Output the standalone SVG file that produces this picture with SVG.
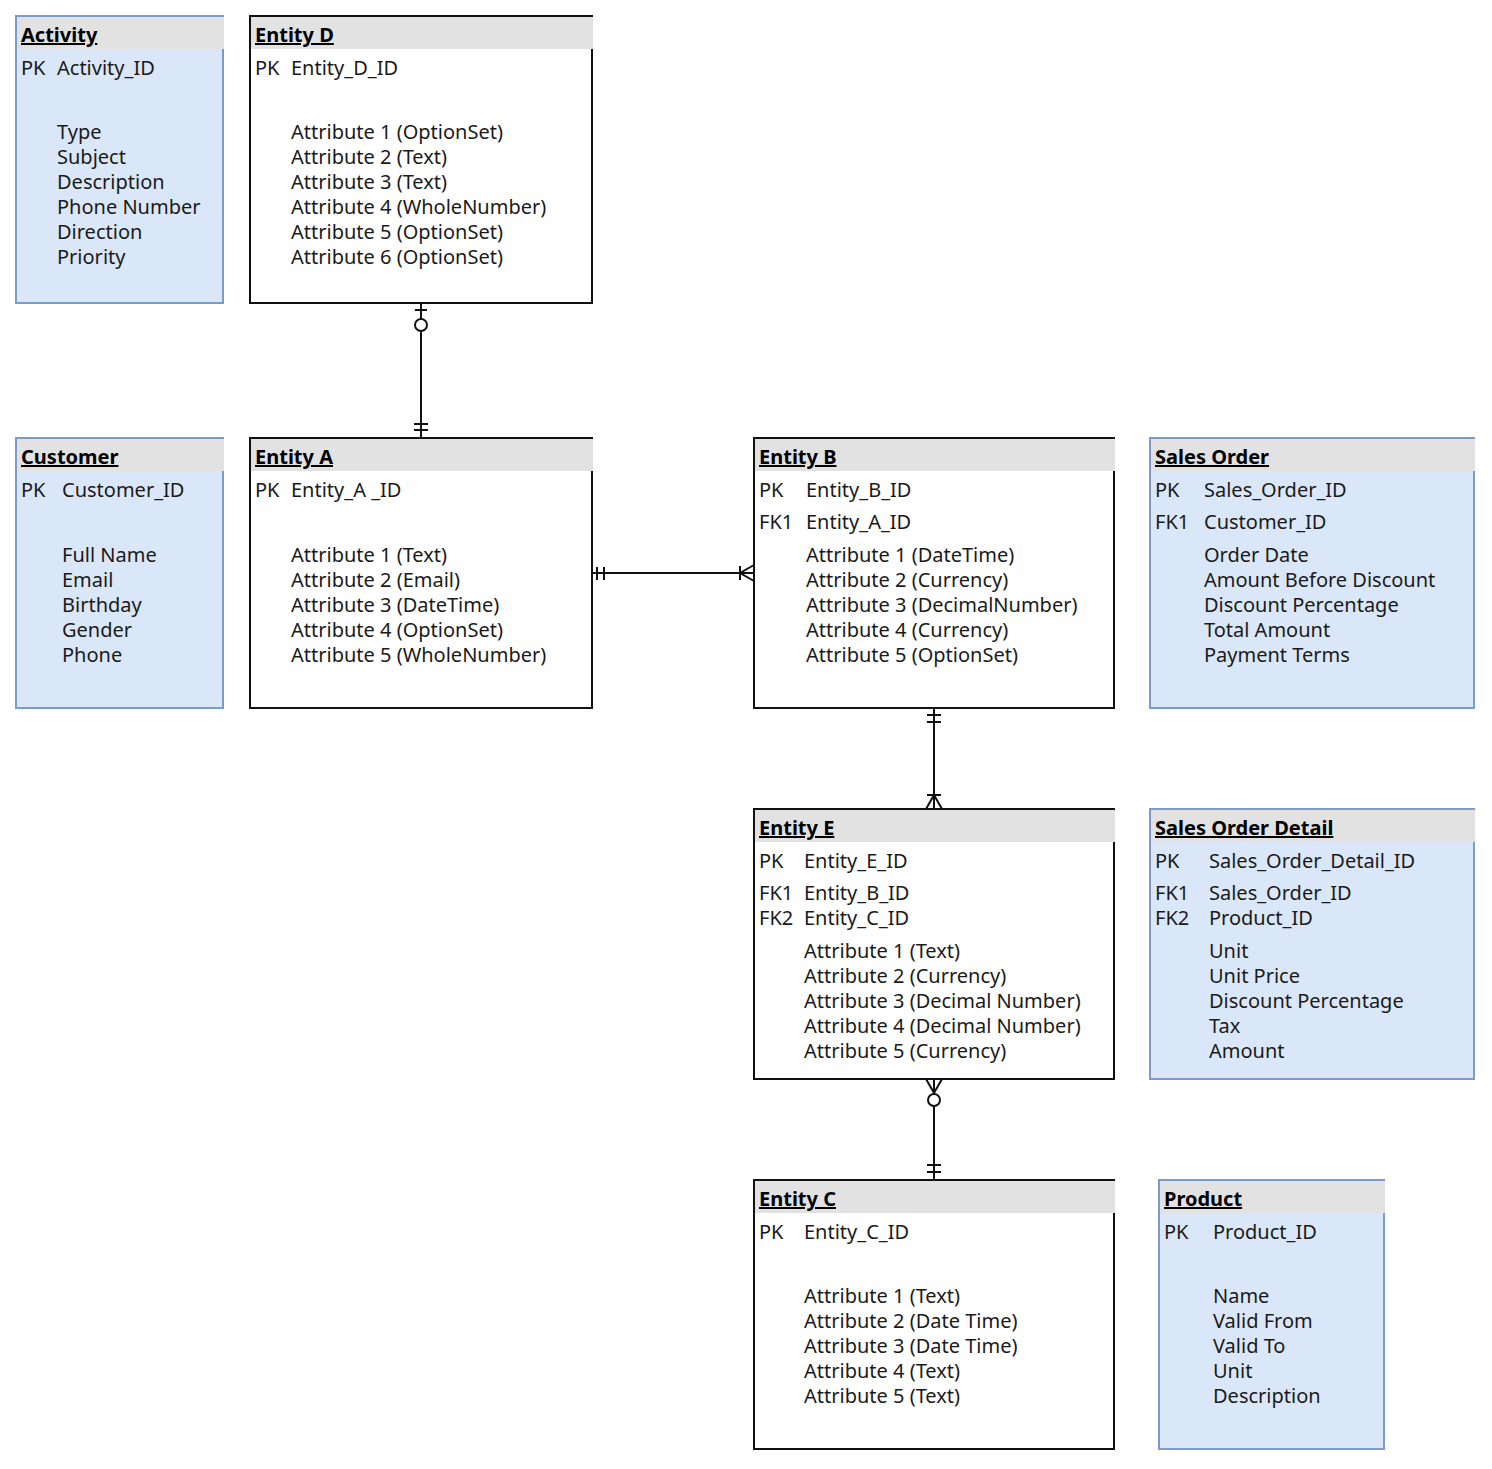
<svg xmlns="http://www.w3.org/2000/svg" width="1492" height="1469" viewBox="0 0 1492 1469">
<style>
text{font-family:"Noto Sans","Open Sans","DejaVu Sans",sans-serif;font-size:20px;fill:#1a1a1a}
.t{font-weight:bold;text-decoration:underline;fill:#000}
.hd{fill:#e2e2e2}
.bw{fill:#fff;stroke:#111;stroke-width:2}
.bb{fill:#dae7f8;stroke:#7b9bcb;stroke-width:2}
.ln{stroke:#111;stroke-width:2;fill:none}
.oc{stroke:#111;stroke-width:2;fill:#fff}
</style>
<rect width="1492" height="1469" fill="#fff"/>

<g id="activity">
<rect class="bb" x="16" y="16" width="207" height="287"/>
<rect class="hd" x="17" y="17" width="207" height="32"/>
<text class="t" x="21" y="42">Activity</text>
<text x="21" y="75">PK</text><text x="57" y="75">Activity_ID</text>
<text x="57" y="139">Type</text>
<text x="57" y="164">Subject</text>
<text x="57" y="189">Description</text>
<text x="57" y="214">Phone Number</text>
<text x="57" y="239">Direction</text>
<text x="57" y="264">Priority</text>
</g>

<g id="entityD">
<rect class="bw" x="250" y="16" width="342" height="287"/>
<rect class="hd" x="251" y="17" width="342" height="32"/>
<text class="t" x="255" y="42">Entity D</text>
<text x="255" y="75">PK</text><text x="291" y="75">Entity_D_ID</text>
<text x="291" y="139">Attribute 1 (OptionSet)</text>
<text x="291" y="164">Attribute 2 (Text)</text>
<text x="291" y="189">Attribute 3 (Text)</text>
<text x="291" y="214">Attribute 4 (WholeNumber)</text>
<text x="291" y="239">Attribute 5 (OptionSet)</text>
<text x="291" y="264">Attribute 6 (OptionSet)</text>
</g>

<g id="customer">
<rect class="bb" x="16" y="438" width="207" height="270"/>
<rect class="hd" x="17" y="439" width="207" height="32"/>
<text class="t" x="21" y="464">Customer</text>
<text x="21" y="497">PK</text><text x="62" y="497">Customer_ID</text>
<text x="62" y="562">Full Name</text>
<text x="62" y="587">Email</text>
<text x="62" y="612">Birthday</text>
<text x="62" y="637">Gender</text>
<text x="62" y="662">Phone</text>
</g>

<g id="entityA">
<rect class="bw" x="250" y="438" width="342" height="270"/>
<rect class="hd" x="251" y="439" width="342" height="32"/>
<text class="t" x="255" y="464">Entity A</text>
<text x="255" y="497">PK</text><text x="291" y="497">Entity_A _ID</text>
<text x="291" y="562">Attribute 1 (Text)</text>
<text x="291" y="587">Attribute 2 (Email)</text>
<text x="291" y="612">Attribute 3 (DateTime)</text>
<text x="291" y="637">Attribute 4 (OptionSet)</text>
<text x="291" y="662">Attribute 5 (WholeNumber)</text>
</g>

<g id="entityB">
<rect class="bw" x="754" y="438" width="360" height="270"/>
<rect class="hd" x="755" y="439" width="360" height="32"/>
<text class="t" x="759" y="464">Entity B</text>
<text x="759" y="497">PK</text><text x="806" y="497">Entity_B_ID</text>
<text x="759" y="529">FK1</text><text x="806" y="529">Entity_A_ID</text>
<text x="806" y="562">Attribute 1 (DateTime)</text>
<text x="806" y="587">Attribute 2 (Currency)</text>
<text x="806" y="612">Attribute 3 (DecimalNumber)</text>
<text x="806" y="637">Attribute 4 (Currency)</text>
<text x="806" y="662">Attribute 5 (OptionSet)</text>
</g>

<g id="salesOrder">
<rect class="bb" x="1150" y="438" width="324" height="270"/>
<rect class="hd" x="1151" y="439" width="324" height="32"/>
<text class="t" x="1155" y="464">Sales Order</text>
<text x="1155" y="497">PK</text><text x="1204" y="497">Sales_Order_ID</text>
<text x="1155" y="529">FK1</text><text x="1204" y="529">Customer_ID</text>
<text x="1204" y="562">Order Date</text>
<text x="1204" y="587">Amount Before Discount</text>
<text x="1204" y="612">Discount Percentage</text>
<text x="1204" y="637">Total Amount</text>
<text x="1204" y="662">Payment Terms</text>
</g>

<g id="entityE">
<rect class="bw" x="754" y="809" width="360" height="270"/>
<rect class="hd" x="755" y="810" width="360" height="32"/>
<text class="t" x="759" y="835">Entity E</text>
<text x="759" y="868">PK</text><text x="804" y="868">Entity_E_ID</text>
<text x="759" y="900">FK1</text><text x="804" y="900">Entity_B_ID</text>
<text x="759" y="925">FK2</text><text x="804" y="925">Entity_C_ID</text>
<text x="804" y="958">Attribute 1 (Text)</text>
<text x="804" y="983">Attribute 2 (Currency)</text>
<text x="804" y="1008">Attribute 3 (Decimal Number)</text>
<text x="804" y="1033">Attribute 4 (Decimal Number)</text>
<text x="804" y="1058">Attribute 5 (Currency)</text>
</g>

<g id="salesOrderDetail">
<rect class="bb" x="1150" y="809" width="324" height="270"/>
<rect class="hd" x="1151" y="810" width="324" height="32"/>
<text class="t" x="1155" y="835">Sales Order Detail</text>
<text x="1155" y="868">PK</text><text x="1209" y="868">Sales_Order_Detail_ID</text>
<text x="1155" y="900">FK1</text><text x="1209" y="900">Sales_Order_ID</text>
<text x="1155" y="925">FK2</text><text x="1209" y="925">Product_ID</text>
<text x="1209" y="958">Unit</text>
<text x="1209" y="983">Unit Price</text>
<text x="1209" y="1008">Discount Percentage</text>
<text x="1209" y="1033">Tax</text>
<text x="1209" y="1058">Amount</text>
</g>

<g id="entityC">
<rect class="bw" x="754" y="1180" width="360" height="269"/>
<rect class="hd" x="755" y="1181" width="360" height="32"/>
<text class="t" x="759" y="1206">Entity C</text>
<text x="759" y="1239">PK</text><text x="804" y="1239">Entity_C_ID</text>
<text x="804" y="1303">Attribute 1 (Text)</text>
<text x="804" y="1328">Attribute 2 (Date Time)</text>
<text x="804" y="1353">Attribute 3 (Date Time)</text>
<text x="804" y="1378">Attribute 4 (Text)</text>
<text x="804" y="1403">Attribute 5 (Text)</text>
</g>

<g id="product">
<rect class="bb" x="1159" y="1180" width="225" height="269"/>
<rect class="hd" x="1160" y="1181" width="225" height="32"/>
<text class="t" x="1164" y="1206">Product</text>
<text x="1164" y="1239">PK</text><text x="1213" y="1239">Product_ID</text>
<text x="1213" y="1303">Name</text>
<text x="1213" y="1328">Valid From</text>
<text x="1213" y="1353">Valid To</text>
<text x="1213" y="1378">Unit</text>
<text x="1213" y="1403">Description</text>
</g>

<g id="connectors">
<!-- D - A -->
<line class="ln" x1="421" y1="303" x2="421" y2="438"/>
<line class="ln" x1="415" y1="310" x2="427" y2="310"/>
<circle class="oc" cx="421" cy="325" r="6"/>
<line class="ln" x1="414" y1="424" x2="428" y2="424"/>
<line class="ln" x1="414" y1="430" x2="428" y2="430"/>
<!-- A - B -->
<line class="ln" x1="592" y1="573" x2="754" y2="573"/>
<line class="ln" x1="597" y1="567" x2="597" y2="580"/>
<line class="ln" x1="604" y1="567" x2="604" y2="580"/>
<line class="ln" x1="740" y1="566" x2="740" y2="580"/>
<polyline class="ln" points="754,565 740,573 754,581"/>
<!-- B - E -->
<line class="ln" x1="934" y1="708" x2="934" y2="809"/>
<line class="ln" x1="927" y1="715" x2="941" y2="715"/>
<line class="ln" x1="927" y1="722" x2="941" y2="722"/>
<line class="ln" x1="927" y1="795" x2="941" y2="795"/>
<polyline class="ln" points="926,809 934,795 942,809"/>
<!-- E - C -->
<line class="ln" x1="934" y1="1079" x2="934" y2="1180"/>
<polyline class="ln" points="926,1079 934,1093 942,1079"/>
<circle class="oc" cx="934" cy="1100" r="6"/>
<line class="ln" x1="927" y1="1165" x2="941" y2="1165"/>
<line class="ln" x1="927" y1="1172" x2="941" y2="1172"/>
</g>
</svg>
